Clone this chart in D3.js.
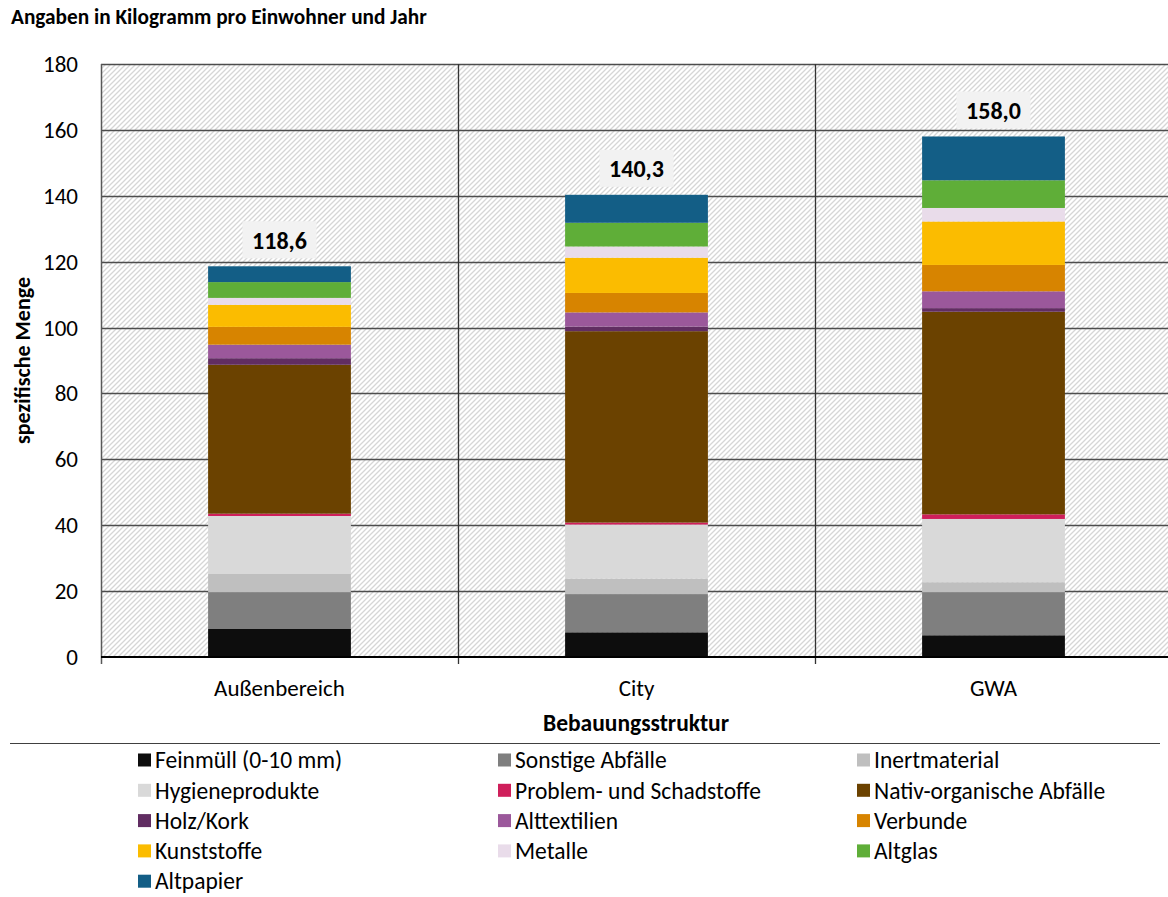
<!DOCTYPE html>
<html>
<head>
<meta charset="utf-8">
<script src="https://cdn.jsdelivr.net/npm/d3@7"></script>
<style>
  body { margin: 0; background: #fff; }
  svg { font-family: Carlito, Calibri, Lato, sans-serif; }
</style>
</head>
<body>
<div class="chart"></div>
<script>
// Kategorien (x-Achse)
const categories = ['Außenbereich', 'City', 'GWA'];

// Fraktionen in Stapelreihenfolge (unten -> oben)
const fractions = ['Feinmüll (0-10 mm)', 'Sonstige Abfälle', 'Inertmaterial', 'Hygieneprodukte',
  'Problem- und Schadstoffe', 'Nativ-organische Abfälle', 'Holz/Kork', 'Alttextilien',
  'Verbunde', 'Kunststoffe', 'Metalle', 'Altglas', 'Altpapier'];
const colors = ['#0d0d0d', '#7f7f7f', '#bfbfbf', '#d9d9d9', '#cf1f5b', '#6b4200', '#612d62',
  '#9b589b', '#d78400', '#fbbc00', '#e9dcea', '#5fae38', '#135e86'];

// Werte je Fraktion (kg/EW*a) für Außenbereich, City, GWA
const feinmuell   = [8.5, 7.5, 6.6];
const sonstige    = [11.2, 11.6, 13.1];
const inert       = [5.5, 4.7, 3.0];
const hygiene     = [17.6, 16.4, 19.2];
const problem     = [0.7, 0.6, 1.4];
const nativ       = [45.2, 58.1, 61.5];
const holz        = [2.0, 1.4, 1.1];
const textilien   = [4.1, 4.3, 5.1];
const verbunde    = [5.4, 5.9, 8.0];
const kunststoffe = [6.7, 10.7, 13.2];
const metalle     = [2.1, 3.4, 4.1];
const altglas     = [4.8, 7.2, 8.4];
const altpapier   = [4.8, 8.5, 13.3];

const totals = [118.6, 140.3, 158.0];
const yTicks = [0, 20, 40, 60, 80, 100, 120, 140, 160, 180];

const seriesValues = [feinmuell, sonstige, inert, hygiene, problem, nativ, holz,
  textilien, verbunde, kunststoffe, metalle, altglas, altpapier];

// Tabelle fuer d3.stack bauen
const table = categories.map((c, i) => {
  const row = { cat: c };
  fractions.forEach((f, j) => row[f] = seriesValues[j][i]);
  return row;
});

const width = 1168, height = 897;
const margin = { top: 64, left: 101, bottom: 240 };
const plotRight = 1172;

const svg = d3.select('.chart')
  .append('svg')
  .attr('width', width)
  .attr('height', height);

// Schraffur Hintergrund
const defs = svg.append('defs');
const pat = defs.append('pattern')
  .attr('id', 'hatch')
  .attr('patternUnits', 'userSpaceOnUse')
  .attr('width', 5)
  .attr('height', 5);
pat.append('rect').attr('width', 5).attr('height', 5).attr('fill', '#ffffff');
pat.append('path')
  .attr('d', 'M-1,1 l2,-2 M0,5 l5,-5 M4,6 l2,-2')
  .attr('stroke', '#d6d6d6')
  .attr('stroke-width', 1.3);

const scaleX = d3.scaleBand()
  .domain(categories)
  .range([margin.left, plotRight])
  .padding(0);

const scaleY = d3.scaleLinear()
  .domain([0, 180])
  .range([height - margin.bottom, margin.top]);

const y0 = scaleY(0);

svg.append('rect')
  .attr('x', margin.left)
  .attr('y', margin.top)
  .attr('width', plotRight - margin.left)
  .attr('height', y0 - margin.top)
  .attr('fill', 'url(#hatch)');

// horizontale Gitterlinien
svg.append('g')
  .selectAll('line')
  .data(yTicks.filter(d => d > 0))
  .join('line')
  .attr('x1', margin.left)
  .attr('x2', plotRight)
  .attr('y1', d => Math.round(scaleY(d)) + 0.5)
  .attr('y2', d => Math.round(scaleY(d)) + 0.5)
  .attr('stroke', '#4d4d4d')
  .attr('stroke-width', 1.3);

// vertikale Trennlinien zwischen Kategorien
svg.append('g')
  .selectAll('line')
  .data(categories)
  .join('line')
  .attr('x1', d => Math.round(scaleX(d)) + 0.5)
  .attr('x2', d => Math.round(scaleX(d)) + 0.5)
  .attr('y1', margin.top)
  .attr('y2', y0 + 7)
  .attr('stroke', d => d === categories[0] ? '#595959' : '#333')
  .attr('stroke-width', d => d === categories[0] ? 1.5 : 1.3);

// gestapelte Balken
const stack = d3.stack().keys(fractions);
const stacked = stack(table);
const bw = scaleX.bandwidth() * 0.4;

svg.append('g')
  .selectAll('g')
  .data(stacked)
  .join('g')
  .attr('fill', (d, i) => colors[i])
  .selectAll('rect')
  .data(d => d)
  .join('rect')
  .attr('x', d => scaleX(d.data.cat) + (scaleX.bandwidth() - bw) / 2)
  .attr('y', d => scaleY(d[1]))
  .attr('height', d => scaleY(d[0]) - scaleY(d[1]))
  .attr('width', bw);

// x-Achse
svg.append('line')
  .attr('x1', margin.left)
  .attr('x2', plotRight)
  .attr('y1', y0)
  .attr('y2', y0)
  .attr('stroke', '#000')
  .attr('stroke-width', 2.2);

// y-Achse Beschriftung
svg.append('g')
  .attr('text-anchor', 'end')
  .style('font-size', '23px')
  .style('fill', '#000')
  .selectAll('text')
  .data(yTicks)
  .join('text')
  .attr('x', 78)
  .attr('y', d => scaleY(d))
  .attr('dy', '0.35em')
  .text(d => d);

// Kategorie-Beschriftung
svg.append('g')
  .attr('text-anchor', 'middle')
  .style('font-size', '23px')
  .selectAll('text')
  .data(categories)
  .join('text')
  .attr('x', d => scaleX(d) + scaleX.bandwidth() / 2)
  .attr('y', 688)
  .attr('dy', '0.35em')
  .text(d => d);

// Summenbeschriftung
const fmt = d => d3.format('.1f')(d).replace('.', ',');
const lab = svg.append('g')
  .selectAll('g')
  .data(categories)
  .join('g')
  .attr('transform', (d, i) => `translate(${scaleX(d) + scaleX.bandwidth() / 2}, ${scaleY(totals[i]) - 26})`);
lab.append('rect')
  .attr('x', -37)
  .attr('y', -19)
  .attr('width', 74)
  .attr('height', 37)
  .attr('fill', '#f2f2f2');
lab.append('text')
  .attr('text-anchor', 'middle')
  .attr('dy', '0.35em')
  .style('font-size', '24px')
  .style('font-weight', 'bold')
  .text((d, i) => fmt(totals[i]));

// Achsentitel
svg.append('text')
  .attr('x', 11)
  .attr('y', 24)
  .style('font-size', '21.3px')
  .style('font-weight', 'bold')
  .text('Angaben in Kilogramm pro Einwohner und Jahr');

svg.append('text')
  .attr('transform', `translate(22, ${(margin.top + y0) / 2}) rotate(-90)`)
  .attr('text-anchor', 'middle')
  .attr('dy', '0.35em')
  .style('font-size', '22px')
  .style('font-weight', 'bold')
  .text('spezifische Menge');

svg.append('text')
  .attr('x', 636)
  .attr('y', 723)
  .attr('text-anchor', 'middle')
  .attr('dy', '0.35em')
  .style('font-size', '23.5px')
  .style('font-weight', 'bold')
  .text('Bebauungsstruktur');

svg.append('line')
  .attr('x1', 10)
  .attr('x2', 1160)
  .attr('y1', 743.5)
  .attr('y2', 743.5)
  .attr('stroke', '#404040')
  .attr('stroke-width', 1.2);

// Legende
const colX = [138, 498, 857];
const legend = svg.append('g')
  .selectAll('g')
  .data(fractions)
  .join('g')
  .attr('transform', (d, i) => `translate(${colX[i % 3]}, ${760 + Math.floor(i / 3) * 30.3})`);
legend.append('rect')
  .attr('x', 0)
  .attr('y', -6.5)
  .attr('width', 13)
  .attr('height', 13)
  .attr('fill', (d, i) => colors[i]);
legend.append('text')
  .attr('x', 17)
  .attr('dy', '0.35em')
  .style('font-size', '23.5px')
  .text(d => d);
</script>
</body>
</html>
